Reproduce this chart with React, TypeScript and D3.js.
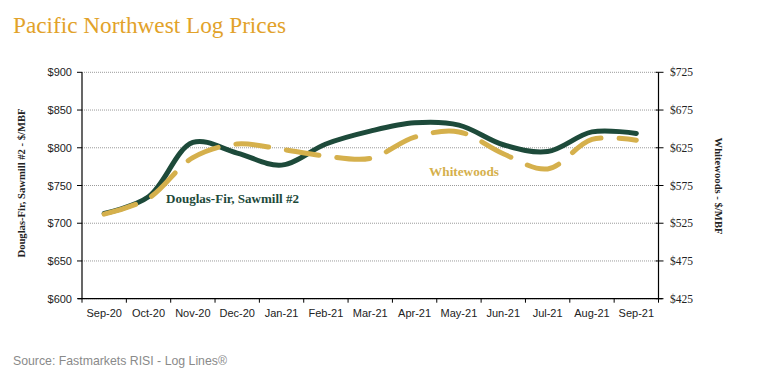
import React from "react";
import * as d3 from "d3";

const months = ["Sep-20","Oct-20","Nov-20","Dec-20","Jan-21","Feb-21","Mar-21","Apr-21","May-21","Jun-21","Jul-21","Aug-21","Sep-21"];
const douglasFir = [713, 735, 807, 793, 777, 805, 822, 833, 830, 804, 795, 821, 819];
const whitewoods = [537, 558, 612, 630, 623, 614, 611, 639, 646, 617, 597, 636, 635];
const leftTicks = [600, 650, 700, 750, 800, 850, 900];
const rightTicks = [425, 475, 525, 575, 625, 675, 725];

const W = 777, H = 381;
const L = 82, R = 658.5, T = 72.3, B = 298.7;
const GREEN = "#1d4a3a";
const GOLD = "#d5b04c";
const TITLE = "#e2a22a";

export default function App() {
  const x = d3.scaleBand<string>().domain(months).range([L, R]).padding(0);
  const yL = d3.scaleLinear().domain([600, 900]).range([B, T]);
  const yR = d3.scaleLinear().domain([425, 725]).range([B, T]);
  const cx = (m: string) => (x(m) as number) + x.bandwidth() / 2;

  const lineL = d3.line<number>().x((_, i) => cx(months[i])).y(d => yL(d)).curve(d3.curveCatmullRom.alpha(0.5));
  const lineR = d3.line<number>().x((_, i) => cx(months[i])).y(d => yR(d)).curve(d3.curveCatmullRom.alpha(0.5));

  const bounds = months.map(m => x(m) as number).concat([R]);

  return (
    <svg width={W} height={H} style={{ position: "absolute", left: 0, top: 0, background: "#fff" }}>
      <rect x={0} y={0} width={W} height={H} fill="#fff" />
      <text x={13} y={33} fontFamily="Liberation Serif, serif" fontSize={23} fill={TITLE} textLength={273} lengthAdjust="spacingAndGlyphs">Pacific Northwest Log Prices</text>

      {leftTicks.map(t => (
        <line key={"g" + t} x1={L} x2={R} y1={yL(t)} y2={yL(t)} stroke="#9a9a9a" strokeWidth={1} strokeDasharray="1,1" />
      ))}

      {/* axes */}
      <line x1={L} x2={L} y1={T} y2={B} stroke="#000" strokeWidth={1.2} />
      <line x1={R} x2={R} y1={T} y2={B} stroke="#000" strokeWidth={1.2} />
      <line x1={L - 4} x2={R + 4} y1={B} y2={B} stroke="#000" strokeWidth={1.2} />
      {leftTicks.map(t => (
        <g key={"l" + t}>
          <line x1={L - 5} x2={L} y1={yL(t)} y2={yL(t)} stroke="#000" strokeWidth={1} />
          <text x={72} y={yL(t) + 4} textAnchor="end" fontFamily="Liberation Sans, Arial, sans-serif" fontSize={11} fill="#222">{"$" + t}</text>
        </g>
      ))}
      {rightTicks.map(t => (
        <g key={"r" + t}>
          <line x1={R - 3} x2={R + 5} y1={yR(t)} y2={yR(t)} stroke="#000" strokeWidth={1} />
          <text x={670} y={yR(t) + 4} fontFamily="Liberation Serif, serif" fontSize={11.5} fill="#222">{"$" + t}</text>
        </g>
      ))}
      {bounds.map((b, i) => (
        <line key={"b" + i} x1={b} x2={b} y1={B} y2={B + 4} stroke="#000" strokeWidth={1} />
      ))}
      {months.map(m => (
        <text key={m} x={cx(m)} y={317} textAnchor="middle" fontFamily="Liberation Sans, Arial, sans-serif" fontSize={11} fill="#222">{m}</text>
      ))}

      <text transform={`translate(25,183) rotate(-90)`} textAnchor="middle" fontFamily="Liberation Serif, serif" fontWeight="bold" fontSize={10.5} fill="#222" textLength={149} lengthAdjust="spacingAndGlyphs">Douglas-Fir, Sawmill #2 - $/MBF</text>
      <text transform={`translate(715,186) rotate(90)`} textAnchor="middle" fontFamily="Liberation Serif, serif" fontWeight="bold" fontSize={10.5} fill="#222" textLength={97} lengthAdjust="spacingAndGlyphs">Whitewoods - $/MBF</text>

      <path d={lineL(douglasFir) || ""} fill="none" stroke={GREEN} strokeWidth={5} strokeLinecap="round" />
      <path d={lineR(whitewoods) || ""} fill="none" stroke={GOLD} strokeWidth={5} strokeLinecap="round" strokeDasharray="33,18" />

      <text x={166} y={203} fontFamily="Liberation Serif, serif" fontWeight="bold" fontSize={13} fill={GREEN} textLength={133} lengthAdjust="spacingAndGlyphs">Douglas-Fir, Sawmill #2</text>
      <text x={429} y={176} fontFamily="Liberation Serif, serif" fontWeight="bold" fontSize={13} fill={GOLD} textLength={70} lengthAdjust="spacingAndGlyphs">Whitewoods</text>

      <text x={13} y={365} fontFamily="Liberation Sans, Arial, sans-serif" fontSize={13} fill="#8a8a8a" textLength={214} lengthAdjust="spacingAndGlyphs">Source: Fastmarkets RISI - Log Lines®</text>
    </svg>
  );
}
